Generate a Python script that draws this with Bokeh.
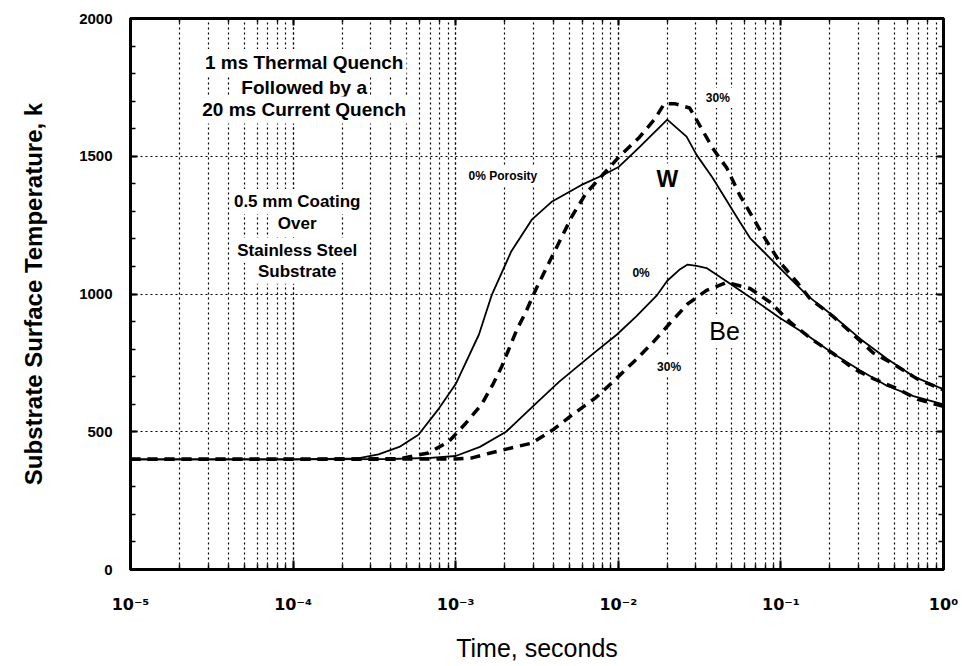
from bokeh.plotting import figure
from bokeh.models import (Range1d, LinearAxis, LogAxis, LogTicker, Label,
                          SingleIntervalTicker, CustomJSTickFormatter)
from bokeh.embed import file_html
from bokeh.resources import INLINE

# ---- data (time in seconds, temperature in K) ----
w0_t = [1e-5, 1e-4, 2.5e-4, 3.35e-4, 4.5e-4, 5.9e-4, 7.9e-4, 1.0e-3, 1.39e-3,
        1.67e-3, 2.19e-3, 2.95e-3, 3.92e-3, 5.9e-3, 7.96e-3, 1.01e-2, 1.35e-2,
        2.0e-2, 2.63e-2, 3.03e-2, 3.8e-2, 5.58e-2, 6.46e-2, 9.86e-2, 0.145,
        0.209, 0.308, 0.451, 0.653, 1.0]
w0_T = [400, 400, 403, 418, 445, 489, 585, 673, 853,
        998, 1153, 1271, 1336, 1395, 1430, 1462, 1533,
        1633, 1571, 1505, 1422, 1262, 1203, 1094, 995,
        921, 837, 764, 701, 654]

w30_t = [1e-5, 1e-4, 4.5e-4, 6.8e-4, 9.06e-4, 1.15e-3, 1.45e-3, 1.7e-3, 1.92e-3,
         2.38e-3, 2.7e-3, 3.12e-3, 4.03e-3, 5.2e-3, 6.34e-3, 7.96e-3, 1.01e-2,
         1.35e-2, 1.67e-2, 1.92e-2, 2.22e-2, 2.75e-2, 3.16e-2, 3.8e-2, 4.65e-2,
         5.58e-2, 6.76e-2, 7.96e-2, 9.86e-2, 0.126, 0.151, 0.207, 0.275, 0.37,
         0.491, 0.692, 1.0]
w30_T = [400, 400, 402, 423, 464, 530, 601, 674, 737,
         871, 935, 1018, 1151, 1283, 1366, 1430, 1498,
         1569, 1634, 1691, 1691, 1675, 1613, 1530, 1457,
         1359, 1275, 1203, 1115, 1042, 983, 921, 856, 786,
         746, 691, 652]

be0_t = [1e-5, 1e-4, 4e-4, 7e-4, 1e-3, 1.41e-3, 2.04e-3, 3.12e-3, 4.32e-3,
         5.75e-3, 6.92e-3, 9.77e-3, 1.29e-2, 1.72e-2, 2.0e-2, 2.4e-2, 2.67e-2,
         3.03e-2, 3.49e-2, 4.65e-2, 7.11e-2, 9.86e-2, 0.1445, 0.209, 0.308,
         0.451, 0.653, 1.0]
be0_T = [400, 400, 401, 405, 412, 445, 500, 603, 681,
         742, 781, 852, 919, 994, 1048, 1090, 1107,
         1102, 1094, 1045, 972, 913, 851, 784, 722,
         666, 629, 599]

be30_t = [1e-5, 1e-4, 1e-3, 1.26e-3, 1.66e-3, 2.34e-3, 2.95e-3, 4.03e-3, 5.2e-3,
          7.31e-3, 9.44e-3, 1.26e-2, 1.62e-2, 2.07e-2, 2.67e-2, 3.49e-2, 4.65e-2,
          6.46e-2, 8.55e-2, 0.114, 0.158, 0.2094, 0.278, 0.37, 0.52, 0.692, 1.0]
be30_T = [400, 400, 401, 405, 424, 445, 459, 510, 561,
          625, 686, 757, 822, 893, 964, 1013, 1042,
          1020, 971, 898, 832, 784, 730, 693, 656, 618, 592]

FONT = "Liberation Sans"

p = figure(width=962, height=666, x_axis_type="log",
           x_range=Range1d(1e-5, 1), y_range=Range1d(0, 2000),
           output_backend="svg", toolbar_location=None,
           min_border_left=130, min_border_right=19,
           min_border_top=18, min_border_bottom=97)
p.background_fill_color = "white"
p.border_fill_color = "white"
p.outline_line_color = "black"
p.outline_line_width = 3

# grids
for g in (p.xgrid, p.ygrid):
    g.grid_line_color = "black"
    g.grid_line_dash = "2 3"
    g.grid_line_width = 1.2
p.xgrid.minor_grid_line_color = "black"
p.xgrid.minor_grid_line_dash = "2 3"
p.xgrid.minor_grid_line_width = 1.2
p.ygrid.ticker = SingleIntervalTicker(interval=500, num_minor_ticks=5)

sup_code = """
const m = {'-':'\u207b','0':'\u2070','1':'\u00b9','2':'\u00b2','3':'\u00b3','4':'\u2074',
           '5':'\u2075','6':'\u2076','7':'\u2077','8':'\u2078','9':'\u2079'};
const e = Math.round(Math.log10(tick));
return '10' + String(e).split('').map(c => m[c]).join('');
"""

xa = p.xaxis[0]
xa.formatter = CustomJSTickFormatter(code=sup_code)
xa.major_label_text_font = "DejaVu Sans"
xa.major_label_text_font_style = "bold"
xa.major_label_text_font_size = "16px"
xa.major_label_text_color = "black"
xa.major_label_standoff = 25
xa.axis_label = "Time, seconds"
xa.axis_label_text_font = FONT
xa.axis_label_text_font_style = "normal"
xa.axis_label_text_font_size = "25px"
xa.axis_label_text_color = "black"
xa.axis_label_standoff = 17
xa.axis_line_width = 3
xa.axis_line_color = "black"
xa.major_tick_in = 9
xa.major_tick_out = 0
xa.minor_tick_in = 5
xa.minor_tick_out = 0
xa.major_tick_line_width = 2
xa.minor_tick_line_width = 1.5

ya = p.yaxis[0]
ya.ticker = SingleIntervalTicker(interval=500, num_minor_ticks=5)
ya.major_label_text_font = FONT
ya.major_label_text_font_style = "bold"
ya.major_label_text_font_size = "15px"
ya.major_label_text_color = "black"
ya.major_label_standoff = 18
ya.axis_label = "Substrate Surface Temperature, k"
ya.axis_label_text_font = FONT
ya.axis_label_text_font_style = "bold"
ya.axis_label_text_font_size = "24px"
ya.axis_label_text_color = "black"
ya.axis_label_standoff = 29
ya.axis_line_width = 3
ya.axis_line_color = "black"
ya.major_tick_in = 7
ya.major_tick_out = 0
ya.minor_tick_in = 5
ya.minor_tick_out = 0
ya.major_tick_line_width = 2
ya.minor_tick_line_width = 1.5

empty = CustomJSTickFormatter(code="return '';")
ra = LinearAxis(ticker=SingleIntervalTicker(interval=500, num_minor_ticks=5),
                formatter=empty, major_label_text_font_size="1px",
                major_label_standoff=0, axis_line_width=3,
                major_tick_in=7, major_tick_out=0, minor_tick_in=5, minor_tick_out=0,
                major_tick_line_width=2, minor_tick_line_width=1.5)
p.add_layout(ra, "right")
ta = LogAxis(ticker=LogTicker(), formatter=CustomJSTickFormatter(code="return '';"),
             major_label_text_font_size="1px", major_label_standoff=0,
             axis_line_width=2, major_tick_in=7, major_tick_out=0,
             minor_tick_in=4, minor_tick_out=0,
             major_tick_line_width=2, minor_tick_line_width=1.5)
p.add_layout(ta, "above")

# curves
p.line(w0_t, w0_T, line_color="black", line_width=1.8)
p.line(w30_t, w30_T, line_color="black", line_width=3.5, line_dash="10 7")
p.line(be0_t, be0_T, line_color="black", line_width=1.8)
p.line(be30_t, be30_T, line_color="black", line_width=3.5, line_dash="10 7")

def lab(x, y, text, size, style="bold", align="center"):
    p.add_layout(Label(x=x, y=y, text=text, text_font=FONT, text_font_size=size,
                       text_font_style=style, text_align=align,
                       text_baseline="middle", text_color="black",
                       background_fill_color="white", padding=3))

lab(1.17e-4, 1840, "1 ms Thermal Quench", "19px")
lab(1.17e-4, 1751, "Followed by a", "19px")
lab(1.17e-4, 1668, "20 ms Current Quench", "19px")

lab(1.06e-4, 1336, "0.5 mm Coating", "17px")
lab(1.06e-4, 1256, "Over", "17px")
lab(1.06e-4, 1159, "Stainless Steel", "17px")
lab(1.06e-4, 1083, "Substrate", "17px")

lab(1.15e-3, 1430, "0% Porosity", "12px", align="left")
lab(3.31e-2, 1711, "30%", "12px", align="left")
lab(2.0e-2, 1416, "W", "23px")
lab(1.17e-2, 1076, "0%", "12px", align="left")
lab(4.5e-2, 865, "Be", "25px", style="normal")
lab(1.66e-2, 736, "30%", "12px", align="left")

open("out.html", "w").write(file_html(p, INLINE))
